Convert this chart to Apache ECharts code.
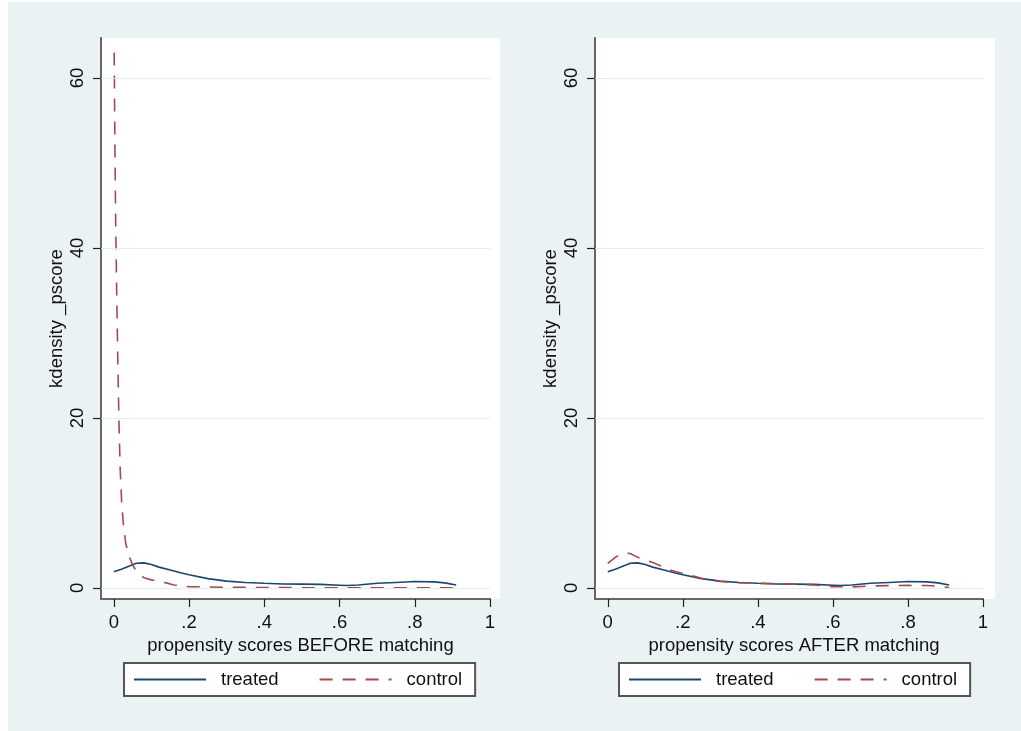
<!DOCTYPE html>
<html>
<head>
<meta charset="utf-8">
<script src="https://cdn.jsdelivr.net/npm/echarts@6/dist/echarts.min.js"></script>
<style>
html,body{margin:0;padding:0;background:#ffffff;}
#chart{width:1021px;height:731px;}
</style>
</head>
<body>
<div id="chart"></div>
<script>
// ---- data ----
const xTicks = [0, 0.2, 0.4, 0.6, 0.8, 1];
const xTickLabels = ['0', '.2', '.4', '.6', '.8', '1'];
const yTicks = [0, 20, 40, 60];
const yTickLabels = ['0', '20', '40', '60'];
const seriesNames = ['treated', 'control'];
const yAxisTitle = 'kdensity _pscore';
const xTitleBefore = 'propensity scores BEFORE matching';
const xTitleAfter = 'propensity scores AFTER matching';

// treated density (same in both panels)
const treatedX = [0, 0.02, 0.04, 0.06, 0.08, 0.1, 0.12, 0.15, 0.18, 0.2, 0.25, 0.3, 0.35, 0.4, 0.45, 0.5, 0.55, 0.6, 0.62, 0.65, 0.7, 0.75, 0.8, 0.85, 0.88, 0.91];
const treatedY = [1.9, 2.2, 2.55, 2.9, 2.95, 2.75, 2.45, 2.1, 1.75, 1.55, 1.1, 0.8, 0.65, 0.55, 0.47, 0.45, 0.42, 0.32, 0.28, 0.35, 0.55, 0.65, 0.75, 0.72, 0.6, 0.35];

// control density before matching
const controlBeforeX = [0.001, 0.003, 0.005, 0.008, 0.011, 0.014, 0.017, 0.021, 0.026, 0.032, 0.04, 0.05, 0.06, 0.08, 0.1, 0.13, 0.16, 0.2, 0.25, 0.3, 0.4, 0.5, 0.6, 0.7, 0.8, 0.91];
const controlBeforeY = [63, 52, 43, 34, 26, 19, 14, 10, 7.2, 5.2, 3.8, 2.7, 2.0, 1.2, 0.95, 0.7, 0.35, 0.15, 0.12, 0.08, 0.05, 0.03, 0.02, 0.02, 0.02, 0.02];

// control density after matching
const controlAfterX = [0, 0.02, 0.04, 0.06, 0.08, 0.1, 0.12, 0.14, 0.16, 0.2, 0.25, 0.3, 0.35, 0.4, 0.45, 0.5, 0.55, 0.6, 0.65, 0.7, 0.75, 0.8, 0.85, 0.88, 0.91];
const controlAfterY = [2.9, 3.6, 4.1, 4.05, 3.6, 3.3, 3.0, 2.6, 2.2, 1.7, 1.15, 0.75, 0.62, 0.55, 0.5, 0.43, 0.35, 0.15, 0.12, 0.23, 0.28, 0.3, 0.28, 0.2, 0.05];

// ---- helpers ----
const zip = (xs, ys) => xs.map((x, i) => [x, ys[i]]);
const FONT = '"Liberation Sans", Arial, sans-serif';
const FS = 18.5;
const BLUE = '#1A476F';
const MAROON = '#A6494F';
const BG = '#EAF2F3';
const DASH = [13, 10];

function xAxisFor(gi, title) {
  return {
    type: 'value', gridIndex: gi, min: -0.034, max: 1,
    name: title, nameLocation: 'middle', nameGap: 32,
    nameTextStyle: { fontFamily: FONT, fontSize: FS, color: '#111', padding: [0, 0, 0, 10] },
    axisLine: { show: true, onZero: false, lineStyle: { color: '#666', width: 2 } },
    axisTick: { show: true, length: 8, customValues: xTicks, lineStyle: { color: '#222', width: 1.2 } },
    axisLabel: { customValues: xTicks, margin: 14, fontFamily: FONT, fontSize: FS, color: '#111',
      formatter: v => { const i = xTicks.findIndex(t => Math.abs(t - v) < 1e-9); return i >= 0 ? xTickLabels[i] : ''; } },
    splitLine: { show: false }
  };
}
function yAxisFor(gi) {
  return {
    type: 'value', gridIndex: gi, min: -1.3, max: 64.7,
    name: yAxisTitle, nameLocation: 'middle', nameGap: 35, nameRotate: 90,
    nameTextStyle: { fontFamily: FONT, fontSize: FS, color: '#111' },
    axisLine: { show: true, onZero: false, lineStyle: { color: '#666', width: 2 } },
    axisTick: { show: true, length: 8, customValues: yTicks, lineStyle: { color: '#222', width: 1.2 } },
    axisLabel: { customValues: yTicks, rotate: 90, margin: 14, fontFamily: FONT, fontSize: FS, color: '#111',
      formatter: v => { const i = yTicks.findIndex(t => Math.abs(t - v) < 1e-9); return i >= 0 ? yTickLabels[i] : ''; } },
    splitLine: { show: false }
  };
}
function gridLines() {
  return {
    silent: true, symbol: 'none', label: { show: false },
    lineStyle: { color: '#E3ECEE', width: 1, type: 'solid' },
    data: yTicks.map(v => ({ yAxis: v }))
  };
}
function legendFor(left) {
  return {
    left: left, top: 663, orient: 'horizontal',
    data: seriesNames,
    itemWidth: 72, itemHeight: 14, itemGap: 40,
    padding: [7, 13, 7, 9],
    borderColor: '#555', borderWidth: 2, backgroundColor: '#ffffff', borderRadius: 0,
    itemStyle: { opacity: 0 },
    textStyle: { fontFamily: FONT, fontSize: FS, color: '#111', padding: [0, 0, 0, 10] },
    selectedMode: false
  };
}

const option = {
  animation: false,
  backgroundColor: '#ffffff',
  graphic: { elements: [
    { type: 'rect', shape: { x: 8, y: 2, width: 1013, height: 729 }, style: { fill: BG }, z: -10, silent: true },
    { type: 'rect', shape: { x: 101, y: 38, width: 399, height: 561 }, style: { fill: '#ffffff' }, z: -9, silent: true },
    { type: 'rect', shape: { x: 595, y: 38, width: 400, height: 561 }, style: { fill: '#ffffff' }, z: -9, silent: true }
  ]},
  grid: [
    { left: 101, top: 38, width: 389, height: 561, containLabel: false },
    { left: 595, top: 38, width: 388, height: 561, containLabel: false }
  ],
  xAxis: [xAxisFor(0, xTitleBefore), xAxisFor(1, xTitleAfter)],
  yAxis: [yAxisFor(0), yAxisFor(1)],
  legend: [legendFor(124), legendFor(619)],
  series: [
    { name: 'treated', type: 'line', xAxisIndex: 0, yAxisIndex: 0, data: zip(treatedX, treatedY),
      symbol: 'none', lineStyle: { color: BLUE, width: 1.6 }, itemStyle: { color: BLUE }, z: 3, markLine: gridLines() },
    { name: 'control', type: 'line', xAxisIndex: 0, yAxisIndex: 0, data: zip(controlBeforeX, controlBeforeY),
      symbol: 'none', lineStyle: { color: MAROON, width: 1.6, type: DASH }, itemStyle: { color: MAROON }, z: 4 },
    { name: 'treated', type: 'line', xAxisIndex: 1, yAxisIndex: 1, data: zip(treatedX, treatedY),
      symbol: 'none', lineStyle: { color: BLUE, width: 1.6 }, itemStyle: { color: BLUE }, z: 3, markLine: gridLines() },
    { name: 'control', type: 'line', xAxisIndex: 1, yAxisIndex: 1, data: zip(controlAfterX, controlAfterY),
      symbol: 'none', lineStyle: { color: MAROON, width: 1.6, type: DASH }, itemStyle: { color: MAROON }, z: 4 }
  ]
};
const chart = echarts.init(document.getElementById('chart'), null, { renderer: 'canvas' });
chart.setOption(option);
</script>
</body>
</html>
